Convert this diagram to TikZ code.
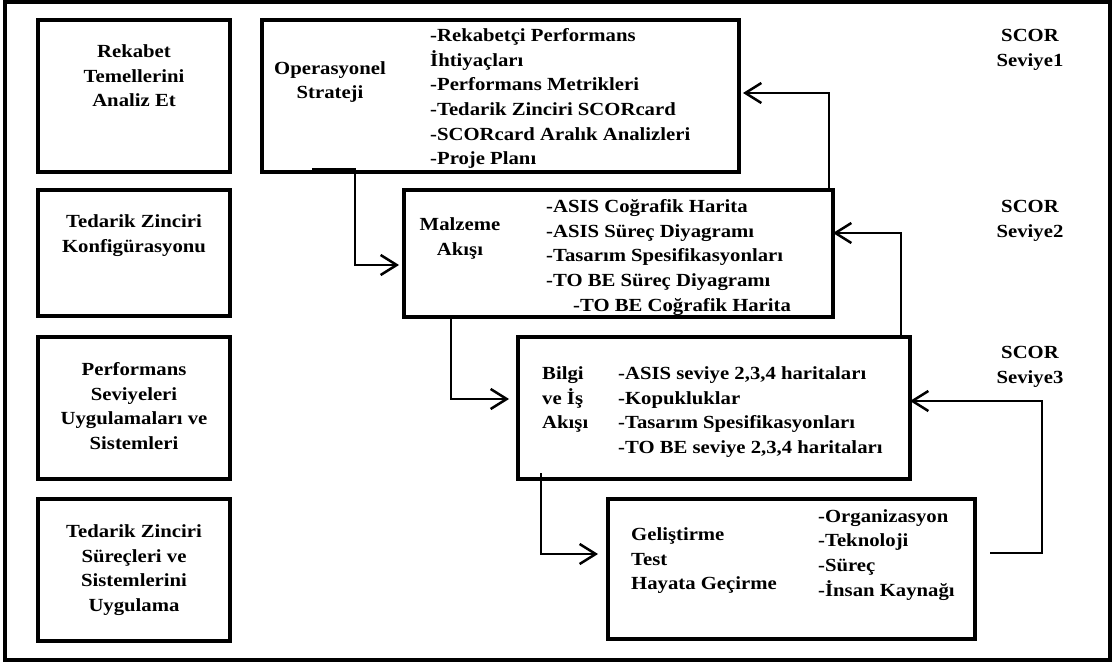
\documentclass[tikz,border=0pt]{standalone}
\usepackage{fontspec}
\setmainfont{Liberation Serif}[FakeStretch=1.12]
\usetikzlibrary{arrows.meta, positioning}

\begin{document}
\begin{tikzpicture}[
    x=1pt, y=-1pt,
    box/.style={rectangle, draw, line width=4pt, outer sep=0pt, inner sep=0pt},
    txt/.style={inner sep=0pt, font=\fontsize{18.5}{24.6}\selectfont\bfseries},
    flow/.style={-{Straight Barb[length=16pt, width=20pt, line width=2.5pt]}, line width=2pt}
]
    \useasboundingbox (0,0) rectangle (1118,666);
    \draw[line width=3.5pt] (5,2) rectangle (1110,660);

    % left column
    \node[box, minimum width=192pt, minimum height=152pt] (rek) at (134,96) {};
    \node[box, minimum width=192pt, minimum height=126pt] (konf) at (134,253) {};
    \node[box, minimum width=192pt, minimum height=142pt] (perf) at (134,408) {};
    \node[box, minimum width=192pt, minimum height=142pt] (uyg) at (134,570) {};

    \node[txt, align=center, below=24.4pt of rek.north] (rekTxt) {Rekabet\\Temellerini\\Analiz Et};
    \node[txt, align=center, below=24.4pt of konf.north] (konfTxt) {Tedarik Zinciri\\Konfigürasyonu};
    \node[txt, align=center, below=25.4pt of perf.north] (perfTxt) {Performans\\Seviyeleri\\Uygulamaları ve\\Sistemleri};
    \node[txt, align=center, below=25.4pt of uyg.north] (uygTxt) {Tedarik Zinciri\\Süreçleri ve\\Sistemlerini\\Uygulama};

    % flow boxes
    \node[box, minimum width=477pt, minimum height=152pt] (ops) at (500.5,96) {};
    \node[box, minimum width=429pt, minimum height=127pt] (malz) at (618.5,253.5) {};
    \node[box, minimum width=392pt, minimum height=142pt] (bilgi) at (714,408) {};
    \node[box, minimum width=367pt, minimum height=140pt] (gelis) at (791.5,569) {};

    \node[txt, anchor=north, align=center] (opsLbl) at (330,61.2) {Operasyonel\\Strateji};
    \node[txt, anchor=north west, align=left] (opsList) at (430,28.4) {-Rekabetçi Performans\\İhtiyaçları\\-Performans Metrikleri\\-Tedarik Zinciri SCORcard\\-SCORcard Aralık Analizleri\\-Proje Planı};

    \node[txt, anchor=north, align=center] (malzLbl) at (460,217.4) {Malzeme\\Akışı};
    \node[txt, anchor=north west, align=left] (malzList) at (546,199.4) {-ASIS Coğrafik Harita\\-ASIS Süreç Diyagramı\\-Tasarım Spesifikasyonları\\-TO BE Süreç Diyagramı\\\hspace*{27pt}-TO BE Coğrafik Harita};

    \node[txt, anchor=north west, align=left] (bilgiLbl) at (542,366.4) {Bilgi\\ve İş\\Akışı};
    \node[txt, anchor=north west, align=left] (bilgiList) at (618,366.4) {-ASIS seviye 2,3,4 haritaları\\-Kopukluklar\\-Tasarım Spesifikasyonları\\-TO BE seviye 2,3,4 haritaları};

    \node[txt, anchor=north west, align=left] (gelisLbl) at (631,527.4) {Geliştirme\\Test\\Hayata Geçirme};
    \node[txt, anchor=north west, align=left] (gelisList) at (818,509.2) {-Organizasyon\\-Teknoloji\\-Süreç\\-İnsan Kaynağı};

    % levels
    \node[txt, anchor=north, align=center] (scorA) at (1030,29.2) {SCOR\\Seviye1};
    \node[txt, anchor=north, align=center] (scorB) at (1030,200.2) {SCOR\\Seviye2};
    \node[txt, anchor=north, align=center] (scorC) at (1030,346.2) {SCOR\\Seviye3};

    % connectors
    \draw[flow, shorten >=5pt] ([xshift=50pt, yshift=3pt]ops.south west) -- ++(43,0) |- ([yshift=-11.5pt]malz.west);
    \draw[flow, shorten >=4pt] ([xshift=-4pt]malz.north east) |- ([yshift=3pt]ops.east);
    \draw[flow, shorten >=9pt] ([xshift=47pt]malz.south west) |- ([yshift=9pt]bilgi.west);
    \draw[flow] ([xshift=-9pt]bilgi.north east) |- ([yshift=20.5pt]malz.east);
    \draw[flow, shorten >=10pt] ([xshift=23pt, yshift=6pt]bilgi.south west) |- ([yshift=15pt]gelis.west);
    \draw[flow] ([xshift=15pt, yshift=16pt]gelis.east) -- ++(52,0) |- ([yshift=7pt]bilgi.east);
\end{tikzpicture}
\end{document}
